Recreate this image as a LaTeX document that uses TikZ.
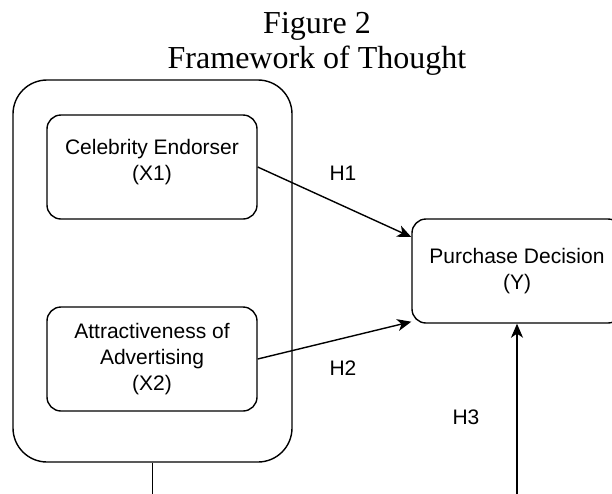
\documentclass[tikz,border=0pt]{standalone}
\usepackage{fontspec}
\setmainfont{Liberation Serif}
\setsansfont{Liberation Sans}
\usetikzlibrary{arrows.meta,positioning}

\begin{document}
\begin{tikzpicture}[x=1pt, y=-1pt,
    box/.style={draw, line width=1.4pt, rounded corners=14pt, minimum width=210pt, minimum height=104pt,
        align=center, font=\sffamily\fontsize{21}{26}\selectfont},
    hyp/.style={font=\sffamily\fontsize{21}{26}\selectfont},
    link/.style={line width=1.4pt, -{Stealth[length=14pt,width=12pt,inset=4pt]}}]
    \useasboundingbox (0,0) rectangle (612,493);
    \clip (0,0) rectangle (612,493);
    % Title on top.
        \node[font=\fontsize{32}{35}\selectfont, align=center, anchor=north, inner sep=0pt] (title) at (317,12) {Figure 2\\Framework of Thought};
    % The frame round both X variables, and the boxes.
        \node[draw, line width=1.4pt, rounded corners=34pt, minimum width=279pt, minimum height=382pt] (frame) at (152.5,271) {};
        \node[box, text depth=14pt] (x1) at (152,167) {Celebrity Endorser\\(X1)};
        \node[box] (x2) at (152,359) {Attractiveness of\\Advertising\\(X2)};
        \node[box] (y) at (517,271) {Purchase Decision\\(Y)};
    % Loose ends below the picture.
        \coordinate (framelink) at (152.5,520);
        \coordinate (ylink) at (517,520);
    % The arrows.
        \draw[link] (x1.east) -- ([yshift=34pt]y.west);
        \draw[link] (x2.east) -- ([yshift=2pt]y.south west);
        \draw[link] (ylink) -- (y.south);
        \draw[line width=1.4pt] (frame.south) -- (framelink);
    % Below nodes are the labels.
        \node[hyp] (h1) at (343,173) {H1};
        \node[hyp] (h2) at (343,368) {H2};
        \node[hyp] (h3) at (466,417) {H3};
\end{tikzpicture}
\end{document}
